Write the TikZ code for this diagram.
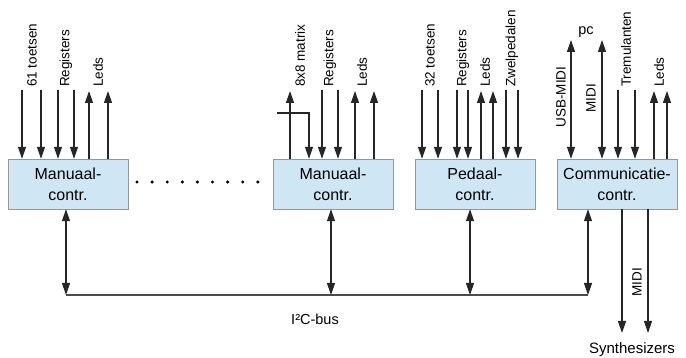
\documentclass[tikz,border=0pt]{standalone}
\usepackage{fontspec}
\setmainfont{Liberation Sans}
\usetikzlibrary{arrows.meta}
\definecolor{boxblue}{RGB}{207,231,245}
\definecolor{boxline}{RGB}{150,150,150}

\begin{document}
\begin{tikzpicture}[x=1pt,y=-1pt,>={Triangle[width=8pt,length=12pt]},
 ctrl/.style={draw=boxline,fill=boxblue,minimum width=120pt,minimum height=50pt,align=center,inner sep=0pt,font=\fontsize{16}{21}\selectfont},
 lbl/.style={rotate=90,anchor=west,inner sep=1pt,font=\fontsize{13.5}{16}\selectfont},
 txt/.style={inner sep=1pt,font=\fontsize{14.5}{17}\selectfont},
 sig/.style={line width=1.2pt,draw=black!85}]
\useasboundingbox (0,0) rectangle (686,358);
% controllers
\node[ctrl] (man1) at (68,184) {Manuaal-\\contr.};
\node[ctrl] (man2) at (333,184) {Manuaal-\\contr.};
\node[ctrl] (ped) at (475,184) {Pedaal-\\contr.};
\node[ctrl] (com) at (617,184) {Communicatie-\\contr.};
% dots between the manuals
\foreach \i in {0,...,8}
  \fill (137+15.1*\i,182) circle (1.7);
% inputs and outputs at the top
\foreach \x in {22,41,58,74} {
  \coordinate (a\x) at (\x,90);
  \draw[sig,->] (a\x) -- (a\x |- man1.north);}
\foreach \x in {89,108} {
  \coordinate (a\x) at (\x,91);
  \draw[sig,->] (a\x |- man1.north) -- (a\x);}
\node[lbl] (l61) at (32,88) {61 toetsen};
\node[lbl] (lreg1) at (66,88) {Registers};
\node[lbl] (lled1) at (98,88) {Leds};
\coordinate (b290) at (290,91);
\draw[sig,->] (b290 |- man2.north) -- (b290);
\coordinate (k1) at (277,113);
\coordinate (k2) at (309,113);
\draw[sig,->] (k1) -- (k2) -- (k2 |- man2.north);
\foreach \x in {322,338} {
  \coordinate (b\x) at (\x,90);
  \draw[sig,->] (b\x) -- (b\x |- man2.north);}
\foreach \x in {355,374} {
  \coordinate (b\x) at (\x,91);
  \draw[sig,->] (b\x |- man2.north) -- (b\x);}
\node[lbl] (lmat) at (300,88) {8x8 matrix};
\node[lbl] (lreg2) at (330,88) {Registers};
\node[lbl] (lled2) at (362,88) {Leds};
\foreach \x in {422,438,457,468,506,518} {
  \coordinate (p\x) at (\x,90);
  \draw[sig,->] (p\x) -- (p\x |- ped.north);}
\foreach \x in {481,493} {
  \coordinate (p\x) at (\x,91);
  \draw[sig,->] (p\x |- ped.north) -- (p\x);}
\node[lbl] (l32) at (430,88) {32 toetsen};
\node[lbl] (lreg3) at (463,88) {Registers};
\node[lbl] (lled3) at (485,88) {Leds};
\node[lbl] (lzwel) at (512,88) {Zwelpedalen};
\foreach \x in {571,602} {
  \coordinate (c\x) at (\x,40);
  \draw[sig,<->] (c\x) -- (c\x |- com.north);}
\foreach \x in {618,635} {
  \coordinate (c\x) at (\x,90);
  \draw[sig,->] (c\x) -- (c\x |- com.north);}
\foreach \x in {654,667} {
  \coordinate (c\x) at (\x,91);
  \draw[sig,->] (c\x |- com.north) -- (c\x);}
\node[txt] (pc) at (586,32) {pc};
\node[lbl,anchor=center] (lusb) at (561,97) {USB-MIDI};
\node[lbl,anchor=center] (lmidi1) at (591,98) {MIDI};
\node[lbl] (ltrem) at (626,88) {Tremulanten};
\node[lbl] (lled4) at (659,88) {Leds};
% I2C bus
\coordinate (bus1) at (66,295);
\coordinate (bus2) at (331,295);
\coordinate (bus3) at (470,295);
\coordinate (bus4) at (588,295);
\draw[line width=1.5pt,draw=black!70] (bus1) -- (bus4);
\draw[sig,<->] (bus1 |- man1.south) -- (bus1);
\draw[sig,<->] (bus2 |- man2.south) -- (bus2);
\draw[sig,<->] (bus3 |- ped.south) -- (bus3);
\draw[sig,<->] (bus4 |- com.south) -- (bus4);
\node[txt] (lbus) at (315,319) {I²C-bus};
% MIDI to the synthesizers
\coordinate (s1) at (622,333);
\coordinate (s2) at (648,333);
\draw[sig,->] (s1 |- com.south) -- (s1);
\draw[sig,->] (s2 |- com.south) -- (s2);
\node[lbl,anchor=center] (lmidi2) at (637,282) {MIDI};
\node[txt,anchor=base,font=\fontsize{15}{18}\selectfont] (synth) at (632,353) {Synthesizers};
\end{tikzpicture}
\end{document}
